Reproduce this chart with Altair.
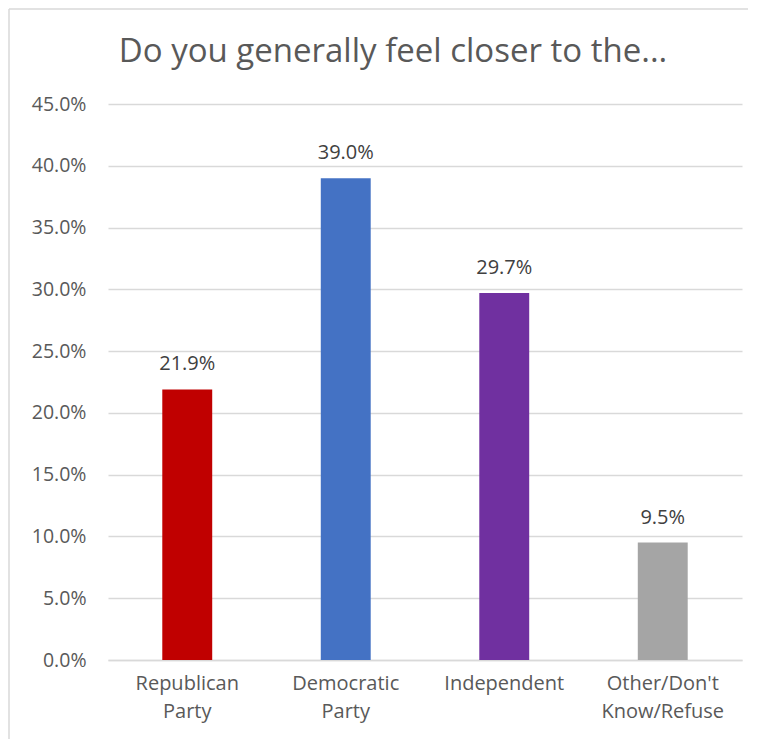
import altair as alt
import pandas as pd

title_text = "Do you generally feel closer to the..."
categories = ["Republican Party", "Democratic Party", "Independent", "Other/Don't Know/Refuse"]
values = [0.219, 0.390, 0.297, 0.095]
colors = ["#C00000", "#4472C4", "#7030A0", "#A5A5A5"]

df = pd.DataFrame({"cat": categories, "val": values, "color": colors})
tdf = pd.DataFrame({"t": [title_text]})

label_expr = ("datum.value == 'Republican Party' ? ['Republican','Party'] : "
              "datum.value == 'Democratic Party' ? ['Democratic','Party'] : "
              "datum.value == 'Independent' ? ['Independent'] : ['Other/Don\\'t','Know/Refuse']")

FONT = "Open Sans"
GRAY = "#595959"

x = alt.X("cat:N", sort=categories, title=None,
          scale=alt.Scale(paddingInner=0.685, paddingOuter=0.3425),
          axis=alt.Axis(labelAngle=0, labelExpr=label_expr, labelFontSize=20, labelColor=GRAY,
                        labelFont=FONT, labelPadding=13, labelLineHeight=28, ticks=False,
                        domainColor="#d9d9d9", domainWidth=1.5, labelBaseline="top"))
y = alt.Y("val:Q", title=None,
          scale=alt.Scale(domain=[0, 0.45]),
          axis=alt.Axis(format=".1%", values=[i * 0.05 for i in range(10)], labelFontSize=19.5,
                        labelColor=GRAY, labelFont=FONT, labelPadding=22, ticks=False, domain=False,
                        gridColor="#d9d9d9", gridWidth=1.3))

bars = alt.Chart(df).mark_bar().encode(
    x=x, y=y, color=alt.Color("color:N", scale=None)
)
text = alt.Chart(df).mark_text(dy=-25, fontSize=20, color="#404040", font=FONT,
                               baseline="middle").encode(
    x=alt.X("cat:N", sort=categories), y="val:Q", text=alt.Text("val:Q", format=".1%")
)
title = alt.Chart(tdf).mark_text(fontSize=33, color=GRAY, font=FONT, baseline="middle",
                                 align="center", clip=False).encode(
    x=alt.value(285), y=alt.value(-52), text="t:N"
)
border_top = alt.Chart(tdf).mark_rule(color="#d9d9d9", strokeWidth=1.5, clip=False).encode(
    x=alt.value(-99), x2=alt.value(640), y=alt.value(-95)
)
border_left = alt.Chart(tdf).mark_rule(color="#d9d9d9", strokeWidth=1.5, clip=False).encode(
    x=alt.value(-99), y=alt.value(-95), y2=alt.value(660)
)

chart = alt.layer(border_top, border_left, bars, text, title).properties(
    width=634, height=556,
    autosize=alt.AutoSizeParams(type="none"),
    padding={"left": 100, "top": 96, "right": 8, "bottom": 79},
).configure_view(stroke=None)

chart.save("out.html", embed_options={"renderer": "svg", "actions": False})
